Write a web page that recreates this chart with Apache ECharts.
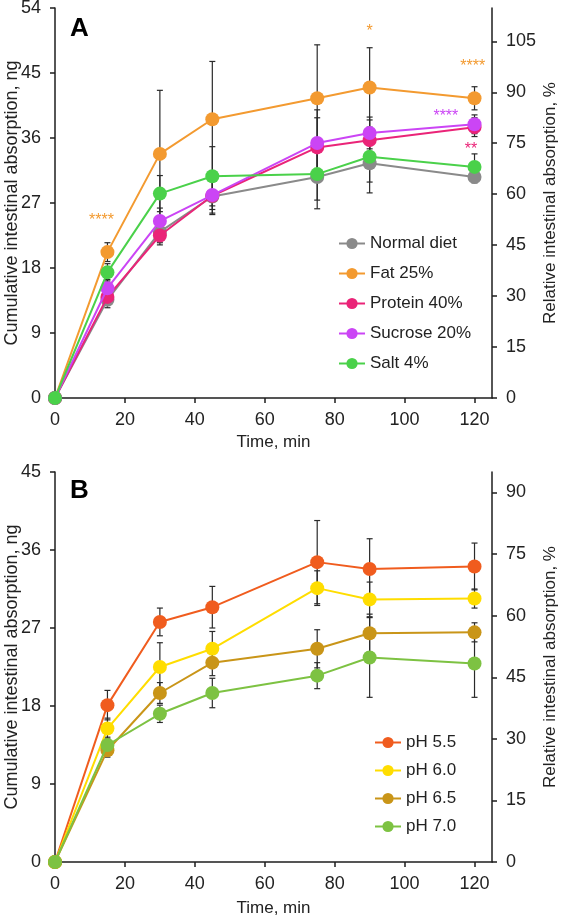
<!DOCTYPE html>
<html>
<head>
<meta charset="utf-8">
<script src="https://cdn.jsdelivr.net/npm/echarts@6/dist/echarts.min.js"></script>
<style>
html,body{margin:0;padding:0;background:#fff;}
#chart{width:563px;height:917px;}
</style>
</head>
<body>
<div id="chart"></div>
<script>
// ---------- data ----------
const times = [0, 15, 30, 45, 75, 90, 120];
const xTicks = [0, 20, 40, 60, 80, 100, 120];

// Panel A (ng)
const namesA = ['Normal diet', 'Fat 25%', 'Protein 40%', 'Sucrose 20%', 'Salt 4%'];
const normalDiet = [0, 13.6, 23.0, 27.9, 30.6, 32.5, 30.6];
const fat25      = [0, 20.2, 33.8, 38.6, 41.5, 43.0, 41.5];
const protein40  = [0, 14.0, 22.5, 28.0, 34.7, 35.7, 37.5];
const sucrose20  = [0, 15.2, 24.5, 28.1, 35.3, 36.7, 37.9];
const salt4      = [0, 17.4, 28.3, 30.7, 31.0, 33.4, 32.0];
// error (SD) for panel A
const normalDietSD = [0, 1.1, 1.5, 2.3, 4.4, 4.1, 0.8];
const fat25SD      = [0, 1.3, 8.8, 8.0, 7.4, 5.5, 1.6];
const protein40SD  = [0, 1.0, 1.3, 2.6, 4.1, 2.8, 1.3];
const sucrose20SD  = [0, 1.2, 1.8, 2.0, 4.6, 2.2, 1.3];
const salt4SD      = [0, 1.2, 2.5, 4.1, 3.6, 3.5, 1.8];
const leftTicksA  = [0, 9, 18, 27, 36, 45, 54];
const rightTicksA = [0, 15, 30, 45, 60, 75, 90, 105];

// Panel B (ng)
const namesB = ['pH 5.5', 'pH 6.0', 'pH 6.5', 'pH 7.0'];
const ph55 = [0, 18.1, 27.7, 29.4, 34.6, 33.8, 34.1];
const ph60 = [0, 15.4, 22.5, 24.6, 31.6, 30.3, 30.4];
const ph65 = [0, 12.9, 19.5, 23.0, 24.6, 26.4, 26.5];
const ph70 = [0, 13.5, 17.1, 19.5, 21.5, 23.6, 22.9];
const ph55SD = [0, 1.7, 1.6, 2.4, 4.8, 3.5, 2.7];
const ph60SD = [0, 1.2, 2.8, 2.0, 2.0, 2.0, 1.1];
const ph65SD = [0, 0.8, 1.2, 1.5, 2.2, 2.2, 1.1];
const ph70SD = [0, 0.9, 1.0, 1.7, 1.5, 4.6, 3.9];
const leftTicksB  = [0, 9, 18, 27, 36, 45];
const rightTicksB = [0, 15, 30, 45, 60, 75, 90];

// significance marks on panel A: [time, ng, text, series index]
const starMarks = [
  [13.3, 25.1, '****', 1],
  [90, 51.3, '*', 1],
  [119.5, 46.4, '****', 1],
  [111.8, 39.5, '****', 3],
  [119.0, 34.9, '**', 2]
];

// ---------- styles ----------
const FONT = "'Liberation Sans', Arial, sans-serif";
const colorsA = ['#8a8a8a', '#f39a30', '#ea2478', '#cb45f5', '#4ad14a'];
const colorsB = ['#f05c1e', '#ffdd00', '#c99518', '#7dc242'];
const axisCol = '#1e1e1e';

const chart = echarts.init(document.getElementById('chart'));

function xAxis(gridIndex, nameGap) {
  return {
    type: 'value', gridIndex, min: 0, max: 125,
    name: 'Time, min', nameLocation: 'middle', nameGap, nameMoveOverlap: false,
    nameTextStyle: {fontFamily: FONT, fontSize: 17, color: '#222'},
    axisLine: {show: true, lineStyle: {color: axisCol, width: 1.5}},
    axisTick: {show: true, length: 5, lineStyle: {color: axisCol, width: 1.5}, customValues: xTicks},
    axisLabel: {fontFamily: FONT, fontSize: 18, color: '#222', margin: 13, customValues: xTicks},
    splitLine: {show: false}
  };
}
function yAxis(gridIndex, pos, max, ticks, name, nameGap, margin, nameSize) {
  return {
    type: 'value', gridIndex, position: pos, min: 0, max,
    name, nameLocation: 'middle', nameGap, nameMoveOverlap: false,
    nameTextStyle: {fontFamily: FONT, fontSize: nameSize, color: '#222'},
    axisLine: {show: true, onZero: false, lineStyle: {color: axisCol, width: 1.5}},
    axisTick: {show: true, length: 5, lineStyle: {color: axisCol, width: 1.5}, customValues: ticks},
    axisLabel: {fontFamily: FONT, fontSize: 18, color: '#222', margin, customValues: ticks},
    splitLine: {show: false}
  };
}

function lineSeries(name, values, color, xi, yi, z) {
  return {
    type: 'line', name, xAxisIndex: xi, yAxisIndex: yi,
    data: times.map((t, i) => [t, values[i]]),
    symbol: 'circle', symbolSize: 14, showSymbol: true,
    lineStyle: {color, width: 2},
    itemStyle: {color, borderWidth: 0},
    z, animation: false
  };
}

function errSeries(values, sd, xi, yi) {
  const data = [];
  times.forEach((t, i) => { if (sd[i] > 0) data.push([t, values[i] - sd[i], values[i] + sd[i]]); });
  return {
    type: 'custom', xAxisIndex: xi, yAxisIndex: yi, z: 1, silent: true, animation: false,
    data,
    encode: {x: 0, y: [1, 2]},
    renderItem: function (params, api) {
      const x = api.value(0);
      const lo = api.coord([x, api.value(1)]);
      const hi = api.coord([x, api.value(2)]);
      const w = 3;
      const st = {stroke: '#2a2a2a', lineWidth: 1.2};
      return {type: 'group', children: [
        {type: 'line', shape: {x1: lo[0], y1: lo[1], x2: hi[0], y2: hi[1]}, style: st},
        {type: 'line', shape: {x1: lo[0] - w, y1: lo[1], x2: lo[0] + w, y2: lo[1]}, style: st},
        {type: 'line', shape: {x1: hi[0] - w, y1: hi[1], x2: hi[0] + w, y2: hi[1]}, style: st}
      ]};
    }
  };
}

const series = [];
const valsA = [normalDiet, fat25, protein40, sucrose20, salt4];
const sdA = [normalDietSD, fat25SD, protein40SD, sucrose20SD, salt4SD];
valsA.forEach((v, i) => series.push(errSeries(v, sdA[i], 0, 0)));
valsA.forEach((v, i) => series.push(lineSeries(namesA[i], v, colorsA[i], 0, 0, 3 + i)));

const valsB = [ph55, ph60, ph65, ph70];
const sdB = [ph55SD, ph60SD, ph65SD, ph70SD];
valsB.forEach((v, i) => series.push(errSeries(v, sdB[i], 1, 2)));
valsB.forEach((v, i) => series.push(lineSeries(namesB[i], v, colorsB[i], 1, 2, 3 + i)));

// star annotations
series.push({
  type: 'custom', xAxisIndex: 0, yAxisIndex: 0, z: 10, silent: true, animation: false,
  data: starMarks.map(s => [s[0], s[1], s[3]]),
  renderItem: function (params, api) {
    const p = api.coord([api.value(0), api.value(1)]);
    const m = starMarks[params.dataIndex];
    return {type: 'text', x: p[0], y: p[1] + 4, style: {
      text: m[2], fill: colorsA[m[3]], font: '16px ' + FONT, align: 'center', verticalAlign: 'middle'
    }};
  }
});

const option = {
  backgroundColor: '#fff',
  animation: false,
  grid: [
    {left: 55, right: 71, top: 8, bottom: 519, outerBoundsMode: 'none', containLabel: false},
    {left: 55, right: 71, top: 472, bottom: 55, outerBoundsMode: 'none', containLabel: false}
  ],
  xAxis: [xAxis(0, 36), xAxis(1, 38)],
  yAxis: [
    yAxis(0, 'left', 54, leftTicksA, 'Cumulative intestinal absorption, ng', 34, 14, 18),
    yAxis(0, 'right', 114.8, rightTicksA, 'Relative intestinal absorption, %', 50, 14, 17),
    yAxis(1, 'left', 45, leftTicksB, 'Cumulative intestinal absorption, ng', 34, 14, 18),
    yAxis(1, 'right', 95, rightTicksB, 'Relative intestinal absorption, %', 50, 14, 17)
  ],
  legend: [
    {data: namesA, orient: 'vertical', left: 333, top: 230, itemWidth: 26, itemHeight: 14, itemGap: 13,
     textStyle: {fontFamily: FONT, fontSize: 17, color: '#222'}, selectedMode: false},
    {data: namesB, orient: 'vertical', left: 369, top: 729, itemWidth: 26, itemHeight: 14, itemGap: 11,
     textStyle: {fontFamily: FONT, fontSize: 17, color: '#222'}, selectedMode: false}
  ],
  graphic: [
    {type: 'text', left: 70, top: 16, style: {text: 'A', font: 'bold 26px ' + FONT, fill: '#000'}},
    {type: 'text', left: 70, top: 478, style: {text: 'B', font: 'bold 26px ' + FONT, fill: '#000'}}
  ],
  series
};
chart.setOption(option);
</script>
</body>
</html>
